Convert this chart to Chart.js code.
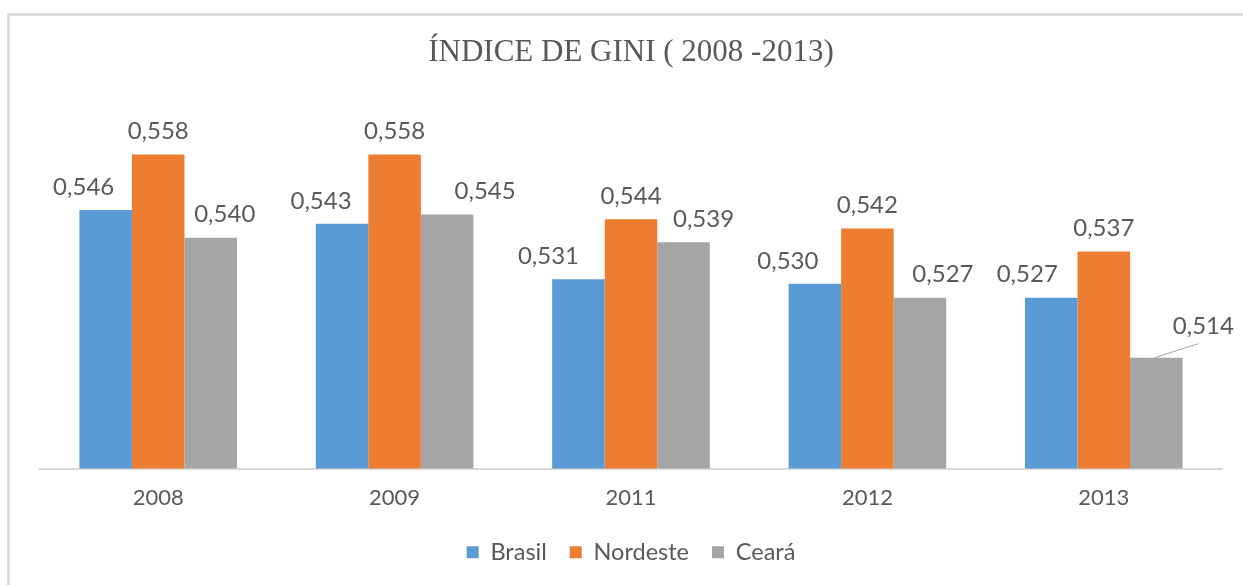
<!DOCTYPE html>
<html>
<head>
<meta charset="utf-8">
<script src="https://cdn.jsdelivr.net/npm/chart.js@4.4.1/dist/chart.umd.min.js"></script>
<style>
    html, body { margin: 0; padding: 0; background: #fff; }
    #frame {
        position: absolute; left: 7px; top: 13px; right: -10px; bottom: -10px;
        border-top: 3px solid #dcdcdc; border-left: 3px solid #dcdcdc;
    }
    #wrap { position: absolute; left: 0; top: 0; width: 1243px; height: 585px; }
</style>
</head>
<body>
<div id="frame"></div>
<div id="wrap"><canvas id="gini"></canvas></div>
<script>
// Dados do gráfico
const years = ['2008', '2009', '2011', '2012', '2013'];
const brasil = [0.546, 0.543, 0.531, 0.530, 0.527];
const nordeste = [0.558, 0.558, 0.544, 0.542, 0.537];
const ceara = [0.540, 0.545, 0.539, 0.527, 0.514];

// Deslocamento dos rótulos (dx, dy) por série, como o Excel faz para evitar sobreposição
const labelNudge = [
    [[-22, 0], [-21, 0], [-30, 0], [-27, 0], [-24, 0]],
    [[0, 0], [0, 0], [0, 0], [0, 0], [0, 0]],
    [[14, 0], [38, 0], [20, 0], [23, 0], [47, -8]]
];

const textColor = '#595959';

const valueLabels = {
    id: 'valueLabels',
    afterDatasetsDraw(chart) {
        const ctx = chart.ctx;
        ctx.save();
        ctx.font = '24px Lato';
        ctx.fillStyle = textColor;
        ctx.textAlign = 'center';
        ctx.textBaseline = 'middle';
        chart.data.datasets.forEach((ds, di) => {
            const meta = chart.getDatasetMeta(di);
            meta.data.forEach((bar, i) => {
                const [dx, dy] = labelNudge[di][i];
                const x = bar.x + dx;
                const y = bar.y - 23 + dy;
                ctx.fillText(ds.data[i].toFixed(3).replace('.', ','), x, y);
                if (dy !== 0) {
                    // linha de chamada
                    ctx.strokeStyle = '#a6a6a6';
                    ctx.lineWidth = 1;
                    ctx.beginPath();
                    ctx.moveTo(bar.x - 2, bar.y);
                    ctx.lineTo(x - 5, y + 17);
                    ctx.stroke();
                }
            });
        });
        ctx.restore();
    }
};

new Chart(document.getElementById('gini'), {
    type: 'bar',
    data: {
        labels: years,
        datasets: [
            { label: 'Brasil', data: brasil, backgroundColor: '#5B9BD5' },
            { label: 'Nordeste', data: nordeste, backgroundColor: '#ED7D31' },
            { label: 'Ceará', data: ceara, backgroundColor: '#A5A5A5' }
        ]
    },
    options: {
        responsive: true,
        maintainAspectRatio: false,
        animation: false,
        categoryPercentage: 0.6667,
        barPercentage: 1.0,
        layout: { padding: { left: 40, right: 21, top: 0, bottom: 11 } },
        scales: {
            x: {
                grid: { display: false, drawTicks: false },
                border: { color: '#d9d9d9', width: 2 },
                ticks: { color: textColor, font: { family: 'Lato', size: 22 }, padding: 16 },
                afterFit(scale) { scale.height = 49; }
            },
            y: { display: false, min: 0.49, max: 0.57 }
        },
        plugins: {
            title: {
                display: true,
                text: 'ÍNDICE DE GINI ( 2008 -2013)',
                color: textColor,
                font: { family: 'Liberation Serif', size: 31, weight: 'normal' },
                padding: { top: 34, bottom: 28 }
            },
            legend: {
                position: 'bottom',
                labels: {
                    color: textColor,
                    font: { family: 'Lato', size: 23.5 },
                    boxWidth: 12,
                    boxHeight: 12,
                    padding: 23
                }
            },
            tooltip: { enabled: false }
        }
    },
    plugins: [valueLabels]
});
</script>
</body>
</html>
